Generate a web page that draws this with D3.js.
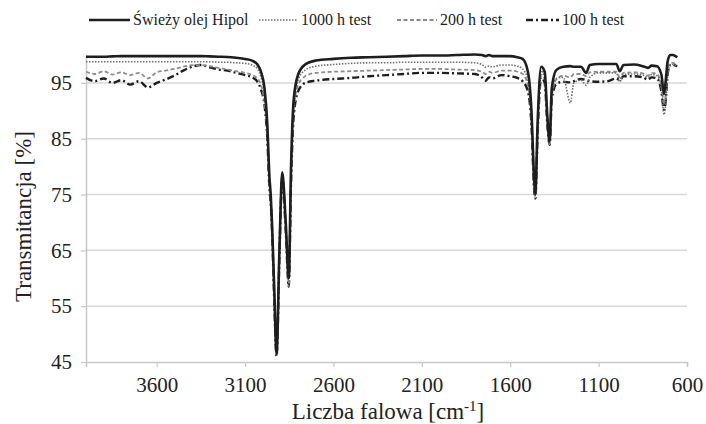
<!DOCTYPE html>
<html>
<head>
<meta charset="utf-8">
<script src="https://cdn.jsdelivr.net/npm/d3@7"></script>
<style>
    body { margin: 0; background: #fff; }
    svg text { font-family: "Liberation Serif", "Times New Roman", serif; fill: #222; }
</style>
</head>
<body>
<svg id="chart" width="706" height="424"></svg>
<script>
// wavenumbers [cm-1], descending
const wavenumbers = [4000, 3950, 3900, 3850, 3800, 3750, 3700, 3650, 3600, 3550, 3500, 3450, 3400, 3350, 3300, 3250, 3200, 3150, 3100, 3060,
    3030, 3010, 2990, 2975, 2962, 2955, 2948, 2935, 2922, 2905, 2890, 2870, 2853, 2840, 2825, 2800, 2760, 2700, 2600, 2500,
    2400, 2300, 2200, 2100, 2000, 1900, 1800, 1760, 1740, 1720, 1700, 1650, 1600, 1560, 1530, 1500, 1480, 1465, 1458, 1445,
    1425, 1405, 1390, 1377, 1365, 1340, 1300, 1260, 1240, 1200, 1170, 1150, 1100, 1050, 1000, 980, 960, 900, 850, 820,
    800, 770, 745, 730, 720, 710, 695, 680, 665, 655];

const freshOil = [99.7, 99.7, 99.7, 99.75, 99.8, 99.8, 99.8, 99.8, 99.8, 99.8, 99.8, 99.8, 99.8, 99.8, 99.75, 99.7, 99.65, 99.5, 99.3, 99.0,
    98.3, 97.0, 94.0, 88, 78, 75, 70, 58, 46.5, 66, 79, 70, 60, 80, 92, 96.5, 98.3, 99.0, 99.3, 99.5,
    99.6, 99.7, 99.8, 99.9, 99.9, 100, 100.1, 100, 99.8, 100, 99.8, 99.8, 99.8, 99.6, 99.3, 97.0, 90, 78, 75, 88,
    97.9, 97.0, 89, 84.5, 94, 97.3, 97.9, 98.0, 97.9, 97.9, 96.8, 98.2, 98.4, 98.4, 98.4, 97.1, 98.2, 98.3, 98.0, 97.7,
    98.1, 98.0, 96.5, 93.0, 95.5, 98.8, 100.0, 100.0, 99.8, 99.6];

const test1000h = [98.8, 98.8, 98.8, 98.8, 98.8, 98.8, 98.8, 98.8, 98.8, 98.8, 98.8, 98.8, 98.8, 98.8, 98.8, 98.7, 98.7, 98.6, 98.5, 98.2,
    97.5, 96.0, 93.0, 87, 77, 74.5, 70, 57, 46.5, 66, 78.5, 69.5, 59.5, 79, 91, 95.5, 97.3, 98.0, 98.3, 98.5,
    98.6, 98.6, 98.7, 98.7, 98.7, 98.7, 98.6, 98.3, 97.8, 98.0, 97.9, 98.2, 98.2, 98.0, 97.5, 95.5, 89, 77, 74.8, 87,
    97.2, 96.2, 88.5, 84.2, 93, 95.8, 96.0, 91.4, 95.0, 95.5, 94.6, 96.0, 96.8, 96.8, 96.8, 95.2, 96.5, 96.6, 96.4, 96.0,
    96.5, 96.3, 94.0, 89.3, 91.5, 96, 98.2, 98.3, 98.1, 98.0];

const test200h = [97.0, 96.6, 97.1, 96.5, 96.9, 96.4, 96.8, 95.8, 96.9, 97.2, 97.5, 97.9, 98.2, 98.2, 98.0, 97.7, 97.4, 97.1, 96.8, 96.4,
    95.8, 94.6, 91.5, 86, 76.5, 74, 69.5, 56.5, 46.3, 65.5, 78.5, 69, 59, 78, 90, 94.6, 96.2, 96.8, 97.0, 97.1,
    97.2, 97.3, 97.4, 97.5, 97.5, 97.4, 97.3, 97.0, 96.6, 97.0, 96.8, 97.2, 97.2, 97.0, 96.6, 94.5, 88.5, 76.5, 74.6, 86.5,
    96.5, 95.6, 88, 84.0, 92.5, 95.6, 96.3, 96.0, 96.6, 96.6, 96.2, 96.9, 97.0, 97.0, 97.0, 96.0, 96.8, 96.9, 96.7, 96.3,
    96.8, 96.6, 94.5, 91.4, 93, 97, 98.6, 98.6, 98.4, 98.3];

const test100h = [95.9, 95.3, 95.8, 95.0, 95.5, 94.7, 95.3, 94.2, 95.0, 95.6, 96.3, 97.2, 97.9, 98.2, 97.8, 97.4, 97.2, 96.8, 96.4, 96.0,
    95.2, 93.8, 91, 85.5, 76, 73.5, 69, 56, 46.0, 65, 78, 68.5, 58.5, 77, 89, 93.5, 95.0, 95.4, 95.7, 95.9,
    96.2, 96.4, 96.6, 96.8, 96.8, 96.7, 96.6, 96.0, 95.4, 96.0, 95.8, 96.4, 96.2, 95.9, 95.3, 93.5, 87.5, 76, 74.3, 86,
    96.0, 95.0, 87.5, 83.9, 92, 94.8, 95.2, 95.1, 95.3, 95.7, 95.5, 95.3, 95.2, 95.3, 95.8, 95.5, 96.2, 96.2, 96.0, 95.6,
    96.0, 95.8, 93.5, 90.2, 92, 96.5, 98.2, 98.3, 98.1, 98.0];

const seriesNames = ['Świeży olej Hipol', '1000 h test', '200 h test', '100 h test'];
const xTicks = [3600, 3100, 2600, 2100, 1600, 1100, 600];
const yTicks = [45, 55, 65, 75, 85, 95];

const serif = '"Liberation Serif", "Times New Roman", serif';

const styles = [
    { stroke: '#1e1e1e', width: 2.6, dash: null },
    { stroke: '#6e6e6e', width: 1.6, dash: '1.5,1.5' },
    { stroke: '#8c8c8c', width: 1.8, dash: '4,2.5' },
    { stroke: '#1e1e1e', width: 2.4, dash: '7,3,2,3' }
];

const svg = d3.select('#chart');
const margin = { top: 55, right: 19, bottom: 62, left: 86 };
const width = 706 - margin.left - margin.right;
const height = 424 - margin.top - margin.bottom;

const chart = svg.append('g')
    .attr('transform', `translate(${margin.left},${margin.top})`);

const xScale = d3.scaleLinear().domain([4000, 600]).range([0, width]);
const yScale = d3.scaleLinear().domain([45, 100]).range([height, 0]);

// gridlines
chart.append('g')
    .selectAll('line')
    .data(yTicks.filter(t => t > 45))
    .join('line')
    .attr('x1', 0)
    .attr('x2', width)
    .attr('y1', d => yScale(d))
    .attr('y2', d => yScale(d))
    .attr('stroke', '#d9d9d9')
    .attr('stroke-width', 1.5);

const xAxis = chart.append('g')
    .attr('transform', `translate(0,${height})`)
    .call(d3.axisBottom(xScale).tickValues(xTicks).tickSize(5).tickPadding(10).tickFormat(d3.format('d')));

const yAxis = chart.append('g')
    .call(d3.axisLeft(yScale).tickValues(yTicks).tickSize(5).tickPadding(9).tickFormat(d3.format('d')).tickSizeOuter(0));

[xAxis, yAxis].forEach(ax => {
    ax.attr('font-family', serif);
    ax.select('.domain').attr('stroke', '#c8c8c8').attr('stroke-width', 1.5);
    ax.selectAll('.tick line').attr('stroke', '#c8c8c8').attr('stroke-width', 1.2);
    ax.selectAll('.tick text')
        .style('font-family', serif)
        .style('font-size', '21px')
        .attr('fill', '#222');
});

// spectra
const allSeries = [freshOil, test1000h, test200h, test100h];
const line = d3.line()
    .x(d => xScale(d[0]))
    .y(d => yScale(d[1]))
    .curve(d3.curveMonotoneX);

// draw the fresh oil last so it sits on top
[3, 2, 1, 0].forEach(i => {
    chart.append('path')
        .datum(d3.zip(wavenumbers, allSeries[i]))
        .attr('fill', 'none')
        .attr('stroke', styles[i].stroke)
        .attr('stroke-width', styles[i].width)
        .attr('stroke-dasharray', styles[i].dash)
        .attr('stroke-linejoin', 'round')
        .attr('d', line);
});

// axis titles
svg.append('text')
    .attr('transform', `translate(31,${margin.top + height / 2 + 8}) rotate(-90)`)
    .attr('text-anchor', 'middle')
    .style('font-family', serif)
    .style('font-size', '23px')
    .text('Transmitancja [%]');

const xTitle = svg.append('text')
    .attr('x', 388)
    .attr('y', 419)
    .attr('text-anchor', 'middle')
    .style('font-family', serif)
    .style('font-size', '23px');
xTitle.append('tspan').text('Liczba falowa [cm');
xTitle.append('tspan').attr('dy', -8).style('font-size', '15px').text('-1');
xTitle.append('tspan').attr('dy', 8).text(']');

// legend
const legendX = [89, 259, 397, 526];
const legendLen = [41, 39, 40, 33];
const legend = svg.append('g');
seriesNames.forEach((name, i) => {
    legend.append('line')
        .attr('x1', legendX[i])
        .attr('x2', legendX[i] + legendLen[i])
        .attr('y1', 20)
        .attr('y2', 20)
        .attr('stroke', styles[i].stroke)
        .attr('stroke-width', styles[i].width)
        .attr('stroke-dasharray', styles[i].dash);
    legend.append('text')
        .attr('x', legendX[i] + legendLen[i] + 3)
        .attr('y', 25)
        .style('font-family', serif)
        .style('font-size', '16px')
        .text(name);
});
</script>
</body>
</html>
